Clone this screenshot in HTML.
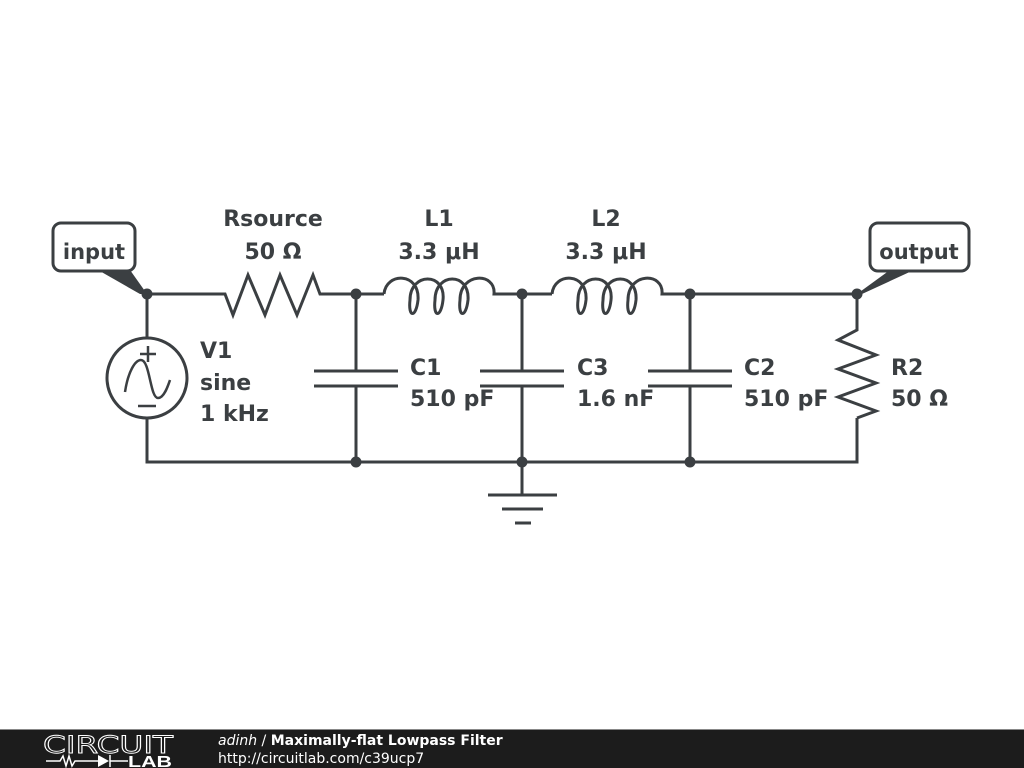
<!DOCTYPE html>
<html><head><meta charset="utf-8"><style>
html,body{margin:0;padding:0;background:#fff;}
svg{display:block}
</style></head><body>
<svg width="1024" height="768" viewBox="0 0 1024 768" xmlns="http://www.w3.org/2000/svg">
<rect width="1024" height="768" fill="#fff"/>
<g stroke="#3b3f42" stroke-width="3" fill="none" stroke-linejoin="miter">
<polyline points="147,294 225,294 233,315 248,275 265,315 280,275 297,315 313,275 320,294 384,294"/>
<path d="M384,294 C386,272 420,272 418,300 C416,318 408,318 410,300 C410,272 446,272 443,300 C441,318 433,318 435,300 C435,272 470,272 468,300 C466,318 458,318 460,300 C460,272 496,272 494,294 L552,294"/>
<path d="M552,294 C554,272 588,272 586,300 C584,318 576,318 578,300 C578,272 614,272 611,300 C609,318 601,318 603,300 C603,272 638,272 636,300 C634,318 626,318 628,300 C628,272 664,272 662,294 L857,294"/>
<polyline points="147,418 147,462 857,462 857,418"/>
<line x1="147" y1="294" x2="147" y2="338"/>
<circle cx="147" cy="378" r="40"/>
<path d="M125,392 C128,372 135,360 141,360 C150,360 150,398 158,398 C164,398 168,386 170,380" stroke-width="2.5"/>
<line x1="140" y1="354" x2="156" y2="354" stroke-width="2.5"/><line x1="148" y1="346" x2="148" y2="362" stroke-width="2.5"/>
<line x1="138" y1="406" x2="156" y2="406" stroke-width="2.5"/>
<line x1="356" y1="294" x2="356" y2="371"/><line x1="356" y1="386" x2="356" y2="462"/>
<line x1="314" y1="371" x2="398" y2="371"/><line x1="314" y1="386" x2="398" y2="386"/>
<line x1="522" y1="294" x2="522" y2="371"/><line x1="522" y1="386" x2="522" y2="494"/>
<line x1="480" y1="371" x2="564" y2="371"/><line x1="480" y1="386" x2="564" y2="386"/>
<line x1="690" y1="294" x2="690" y2="371"/><line x1="690" y1="386" x2="690" y2="462"/>
<line x1="648" y1="371" x2="732" y2="371"/><line x1="648" y1="386" x2="732" y2="386"/>
<line x1="488" y1="495" x2="557" y2="495"/><line x1="502" y1="509" x2="543" y2="509"/><line x1="515" y1="523" x2="531" y2="523"/>
<polyline points="857,294 857,330 838,340 876,355 838,369 876,383 838,397 876,411 857,418"/>
<rect x="53" y="223" width="82" height="48" rx="8" fill="#fff"/>
<rect x="870" y="223" width="99" height="48" rx="8" fill="#fff"/>
</g>
<g fill="#3b3f42">
<polygon points="98,270 130,270 147,294 140,294"/>
<polygon points="890,270 914,270 862,294 857,294"/>
<circle cx="147" cy="294" r="5.5"/><circle cx="356" cy="294" r="5.5"/><circle cx="522" cy="294" r="5.5"/><circle cx="690" cy="294" r="5.5"/><circle cx="857" cy="294" r="5.5"/>
<circle cx="356" cy="462" r="5.5"/><circle cx="522" cy="462" r="5.5"/><circle cx="690" cy="462" r="5.5"/>
</g>
<g font-family="DejaVu Sans, sans-serif" font-weight="bold" font-size="22" fill="#3b3f42">
<text x="94" y="259" text-anchor="middle" font-size="21">input</text>
<text x="919" y="259" text-anchor="middle" font-size="21">output</text>
<text x="273" y="226" text-anchor="middle">Rsource</text>
<text x="273" y="259" text-anchor="middle">50 Ω</text>
<text x="439" y="226" text-anchor="middle">L1</text>
<text x="439" y="259" text-anchor="middle">3.3 μH</text>
<text x="606" y="226" text-anchor="middle">L2</text>
<text x="606" y="259" text-anchor="middle">3.3 μH</text>
<text x="200" y="358">V1</text><text x="200" y="390">sine</text><text x="200" y="421">1 kHz</text>
<text x="410" y="375">C1</text><text x="410" y="406">510 pF</text>
<text x="577" y="375">C3</text><text x="577" y="406">1.6 nF</text>
<text x="744" y="375">C2</text><text x="744" y="406">510 pF</text>
<text x="891" y="375">R2</text><text x="891" y="406">50 Ω</text>
</g>
<rect x="0" y="729" width="1024" height="39" fill="#1c1c1c"/>
<rect x="0" y="729" width="1024" height="1" fill="#888"/>
<text x="43" y="753" font-family="DejaVu Sans, sans-serif" font-size="24" fill="none" stroke="#fff" stroke-width="0.9" textLength="130" lengthAdjust="spacingAndGlyphs">CIRCUIT</text>
<g stroke="#fff" stroke-width="1.5" fill="none"><polyline points="46,761 60,761 63,756 66,766 69,756 72,766 75,761 98,761"/><line x1="110" y1="761" x2="128" y2="761"/><line x1="110" y1="755" x2="110" y2="767"/></g>
<polygon points="98,755 98,767 109,761" fill="#fff"/>
<text x="128" y="767" font-family="Liberation Sans, sans-serif" font-weight="bold" font-size="16" fill="#fff" textLength="44" lengthAdjust="spacingAndGlyphs">LAB</text>
<text x="218" y="745" font-family="DejaVu Sans, sans-serif" font-size="14" fill="#fff"><tspan font-style="italic">adinh</tspan> / <tspan font-weight="bold">Maximally-flat Lowpass Filter</tspan></text>
<text x="218" y="763" font-family="DejaVu Sans, sans-serif" font-size="14" fill="#fff">http://circuitlab.com/c39ucp7</text>
</svg>
</body></html>
